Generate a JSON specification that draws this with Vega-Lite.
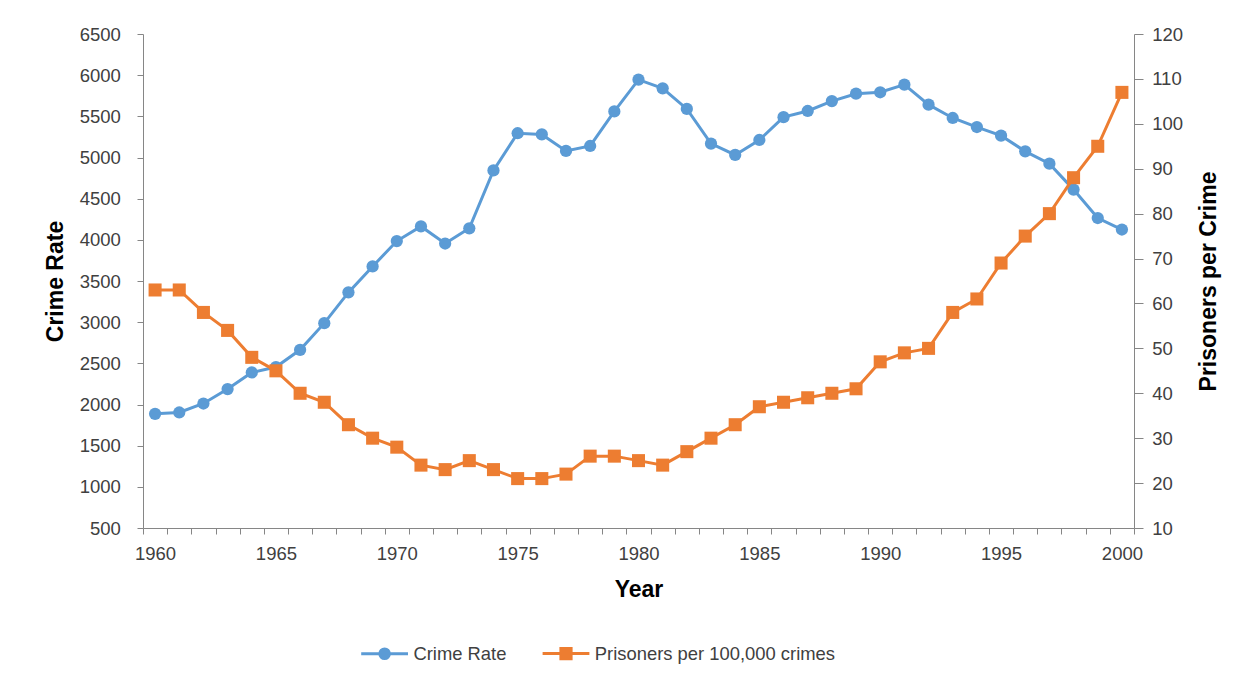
{
  "$schema": "https://vega.github.io/schema/vega-lite/v6.json",
  "width": 991,
  "height": 494,
  "autosize": {"type": "none"},
  "padding": {"left": 143, "top": 34, "right": 121, "bottom": 157},
  "background": "white",
  "config": {
    "view": {"stroke": null},
    "font": "Liberation Sans",
    "axis": {
      "domainColor": "#868686",
      "tickColor": "#868686",
      "labelColor": "#404040",
      "labelFont": "Liberation Sans",
      "labelFontSize": 18.5,
      "titleFont": "Liberation Sans",
      "titleFontSize": 23,
      "titleFontWeight": "bold",
      "titleColor": "#000000",
      "grid": false
    }
  },
  "data": {
    "values": [
      {"Year": 1960, "crime": 1887, "prisoners": 63},
      {"Year": 1961, "crime": 1903, "prisoners": 63},
      {"Year": 1962, "crime": 2012, "prisoners": 58},
      {"Year": 1963, "crime": 2187, "prisoners": 54},
      {"Year": 1964, "crime": 2389, "prisoners": 48},
      {"Year": 1965, "crime": 2455, "prisoners": 45},
      {"Year": 1966, "crime": 2664, "prisoners": 40},
      {"Year": 1967, "crime": 2988, "prisoners": 38},
      {"Year": 1968, "crime": 3362, "prisoners": 33},
      {"Year": 1969, "crime": 3677, "prisoners": 30},
      {"Year": 1970, "crime": 3985, "prisoners": 28},
      {"Year": 1971, "crime": 4163, "prisoners": 24},
      {"Year": 1972, "crime": 3955, "prisoners": 23},
      {"Year": 1973, "crime": 4140, "prisoners": 25},
      {"Year": 1974, "crime": 4843, "prisoners": 23},
      {"Year": 1975, "crime": 5295, "prisoners": 21},
      {"Year": 1976, "crime": 5280, "prisoners": 21},
      {"Year": 1977, "crime": 5080, "prisoners": 22},
      {"Year": 1978, "crime": 5140, "prisoners": 26},
      {"Year": 1979, "crime": 5560, "prisoners": 26},
      {"Year": 1980, "crime": 5945, "prisoners": 25},
      {"Year": 1981, "crime": 5840, "prisoners": 24},
      {"Year": 1982, "crime": 5590, "prisoners": 27},
      {"Year": 1983, "crime": 5168, "prisoners": 30},
      {"Year": 1984, "crime": 5031, "prisoners": 33},
      {"Year": 1985, "crime": 5213, "prisoners": 37},
      {"Year": 1986, "crime": 5490, "prisoners": 38},
      {"Year": 1987, "crime": 5565, "prisoners": 39},
      {"Year": 1988, "crime": 5685, "prisoners": 40},
      {"Year": 1989, "crime": 5775, "prisoners": 41},
      {"Year": 1990, "crime": 5792, "prisoners": 47},
      {"Year": 1991, "crime": 5885, "prisoners": 49},
      {"Year": 1992, "crime": 5642, "prisoners": 50},
      {"Year": 1993, "crime": 5480, "prisoners": 58},
      {"Year": 1994, "crime": 5370, "prisoners": 61},
      {"Year": 1995, "crime": 5265, "prisoners": 69},
      {"Year": 1996, "crime": 5075, "prisoners": 75},
      {"Year": 1997, "crime": 4925, "prisoners": 80},
      {"Year": 1998, "crime": 4610, "prisoners": 88},
      {"Year": 1999, "crime": 4265, "prisoners": 95},
      {"Year": 2000, "crime": 4125, "prisoners": 107}
    ]
  },
  "encoding": {
    "x": {
      "field": "Year",
      "type": "ordinal",
      "scale": {"type": "band", "paddingInner": 0, "paddingOuter": 0},
      "axis": {
        "title": "Year",
        "tickBand": "extent",
        "labelAngle": 0,
        "labelExpr": "datum.value % 5 === 0 ? datum.label : ''",
        "tickSize": 6,
        "labelPadding": 10.5,
        "titleBaseline": "alphabetic",
        "titleY": 68
      }
    }
  },
  "layer": [
    {
      "encoding": {
        "y": {
          "field": "crime",
          "type": "quantitative",
          "scale": {"domain": [500, 6500], "nice": false, "zero": false},
          "axis": {
            "orient": "left",
            "title": "Crime Rate",
            "values": [500, 1000, 1500, 2000, 2500, 3000, 3500, 4000, 4500, 5000, 5500, 6000, 6500],
            "format": "d",
            "tickSize": 6,
            "labelPadding": 16.7,
            "titleAngle": -90,
            "titleX": -80.5,
            "titleY": 247,
            "titleAlign": "center",
            "titleBaseline": "alphabetic"
          }
        }
      },
      "layer": [
        {"mark": {"type": "line", "color": "#5B9BD5", "strokeWidth": 3}},
        {"mark": {"type": "point", "filled": true, "opacity": 1, "size": 150, "shape": "circle", "color": "#5B9BD5"}},
        {
          "transform": [{"filter": "false"}],
          "mark": {"type": "point", "filled": false, "opacity": 1, "strokeWidth": 3, "size": 144},
          "encoding": {
            "color": {
              "field": "series",
              "type": "nominal",
              "scale": {"domain": ["Crime Rate", "Prisoners per 100,000 crimes"], "range": ["#5B9BD5", "#ED7D31"]},
              "legend": {
                "title": null,
                "orient": "none",
                "direction": "horizontal",
                "legendX": 232.4,
                "legendY": 610,
                "padding": 0,
                "symbolSize": 144,
                "symbolStrokeWidth": 3,
                "symbolOpacity": 1,
                "labelOffset": 19.6,
                "columnPadding": 29.4,
                "labelLimit": 0,
                "labelFont": "Liberation Sans",
                "labelFontSize": 18.4,
                "labelColor": "#404040"
              }
            },
            "shape": {
              "field": "series",
              "type": "nominal",
              "scale": {
                "domain": ["Crime Rate", "Prisoners per 100,000 crimes"],
                "range": [
                  "M-3.9,0H3.9M0.8,0A0.8,0.8,0,1,1,-0.8,0A0.8,0.8,0,1,1,0.8,0M0.3,0A0.3,0.3,0,1,1,-0.3,0A0.3,0.3,0,1,1,0.3,0",
                  "M-3.9,0H3.9M-0.85,-0.85H0.85V0.85H-0.85ZM-0.35,-0.35H0.35V0.35H-0.35Z"
                ]
              },
              "legend": {
                "title": null,
                "orient": "none",
                "direction": "horizontal",
                "legendX": 232.4,
                "legendY": 610,
                "padding": 0,
                "symbolSize": 144,
                "symbolStrokeWidth": 3,
                "symbolOpacity": 1,
                "labelOffset": 19.6,
                "columnPadding": 29.4,
                "labelLimit": 0,
                "labelFont": "Liberation Sans",
                "labelFontSize": 18.4,
                "labelColor": "#404040"
              }
            }
          }
        }
      ]
    },
    {
      "encoding": {
        "y": {
          "field": "prisoners",
          "type": "quantitative",
          "scale": {"domain": [10, 120], "nice": false, "zero": false},
          "axis": {
            "orient": "right",
            "title": "Prisoners per Crime",
            "values": [10, 20, 30, 40, 50, 60, 70, 80, 90, 100, 110, 120],
            "tickSize": 9,
            "labelPadding": 8.7,
            "titleAngle": -90,
            "titleX": 81,
            "titleY": 247,
            "titleAlign": "center",
            "titleBaseline": "alphabetic"
          }
        }
      },
      "layer": [
        {"mark": {"type": "line", "color": "#ED7D31", "strokeWidth": 3}},
        {"mark": {"type": "point", "filled": true, "opacity": 1, "size": 170, "shape": "square", "color": "#ED7D31"}}
      ]
    }
  ],
  "resolve": {"scale": {"y": "independent"}}
}
